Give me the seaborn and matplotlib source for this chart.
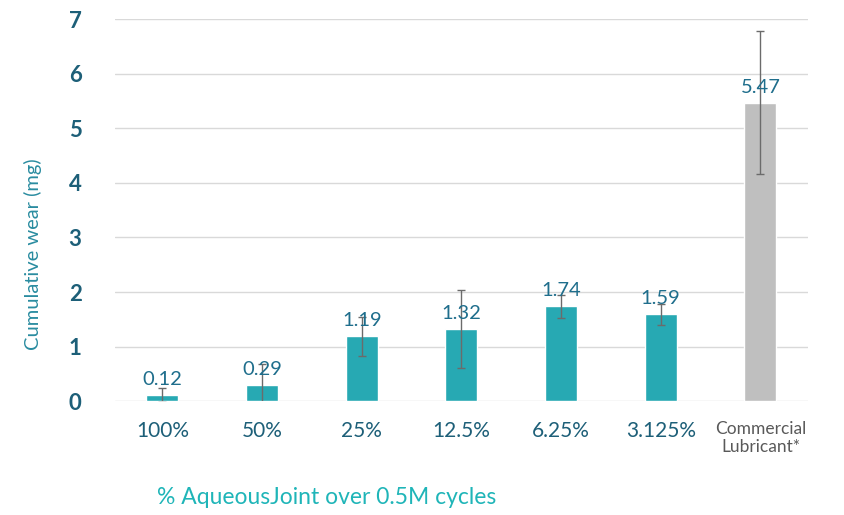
import numpy as np
import pandas as pd
import matplotlib
matplotlib.use("Agg")
import matplotlib.pyplot as plt
import seaborn as sns

categories = ["100%", "50%", "25%", "12.5%", "6.25%", "3.125%", "Commercial\nLubricant*"]
wear = [0.12, 0.29, 1.19, 1.32, 1.74, 1.59, 5.47]
wear_err = [0.13, 0.40, 0.36, 0.72, 0.21, 0.19, 1.31]
bar_colors = ["#27a9b3"] * 6 + ["#bfbfbf"]

df = pd.DataFrame({"group": categories, "wear": wear})

sns.set_style("white")
plt.rcParams["font.family"] = ["Lato", "DejaVu Sans"]

fig = plt.figure(figsize=(8.45, 5.15), dpi=100)
ax = fig.add_axes([0.136, 0.221, 0.820, 0.742])

sns.barplot(data=df, x="group", y="wear", hue="group", palette=bar_colors,
            width=0.32, saturation=1, legend=False, ax=ax, errorbar=None, zorder=2)

xs = np.arange(len(categories))
ax.errorbar(xs, wear, yerr=wear_err, fmt="none", ecolor="#6b6b6b",
            elinewidth=1, capsize=3, capthick=1, zorder=3, clip_on=True)

# value labels above each bar
for x, v in zip(xs, wear):
    ax.annotate(f"{v:.2f}", (x, v), xytext=(0, 5), textcoords="offset points",
                ha="center", va="bottom", fontsize=14.5, color="#1f6e8c", zorder=4)

ax.set_ylim(0, 7)
ax.set_yticks(range(0, 8))
ax.yaxis.grid(True, color="#d9d9d9", linewidth=1, zorder=0)
ax.set_axisbelow(True)
sns.despine(ax=ax, left=True, bottom=True, top=True, right=True)
ax.tick_params(axis="both", length=0)
ax.tick_params(axis="y", pad=24)
ax.tick_params(axis="x", pad=14)

for lab in ax.get_yticklabels():
    lab.set_fontsize(16)
    lab.set_fontweight("bold")
    lab.set_color("#1d5f78")
for lab in ax.get_xticklabels():
    if lab.get_text().startswith("Commercial"):
        lab.set_fontsize(12.5)
        lab.set_color("#595959")
        lab.set_linespacing(1.15)
    else:
        lab.set_fontsize(15)
        lab.set_color("#1d5f78")

ax.set_ylabel("Cumulative wear (mg)", fontsize=14.5, color="#2a8ca0")
ax.yaxis.label.set_verticalalignment("center")
ax.yaxis.set_label_coords(-0.118, 0.385)
ax.set_xlabel("% AqueousJoint over 0.5M cycles", fontsize=16.5, color="#1fb5b8")
ax.xaxis.label.set_verticalalignment("center")
ax.xaxis.set_label_coords(0.305, -0.251)

plt.savefig("out.png", dpi=100)
